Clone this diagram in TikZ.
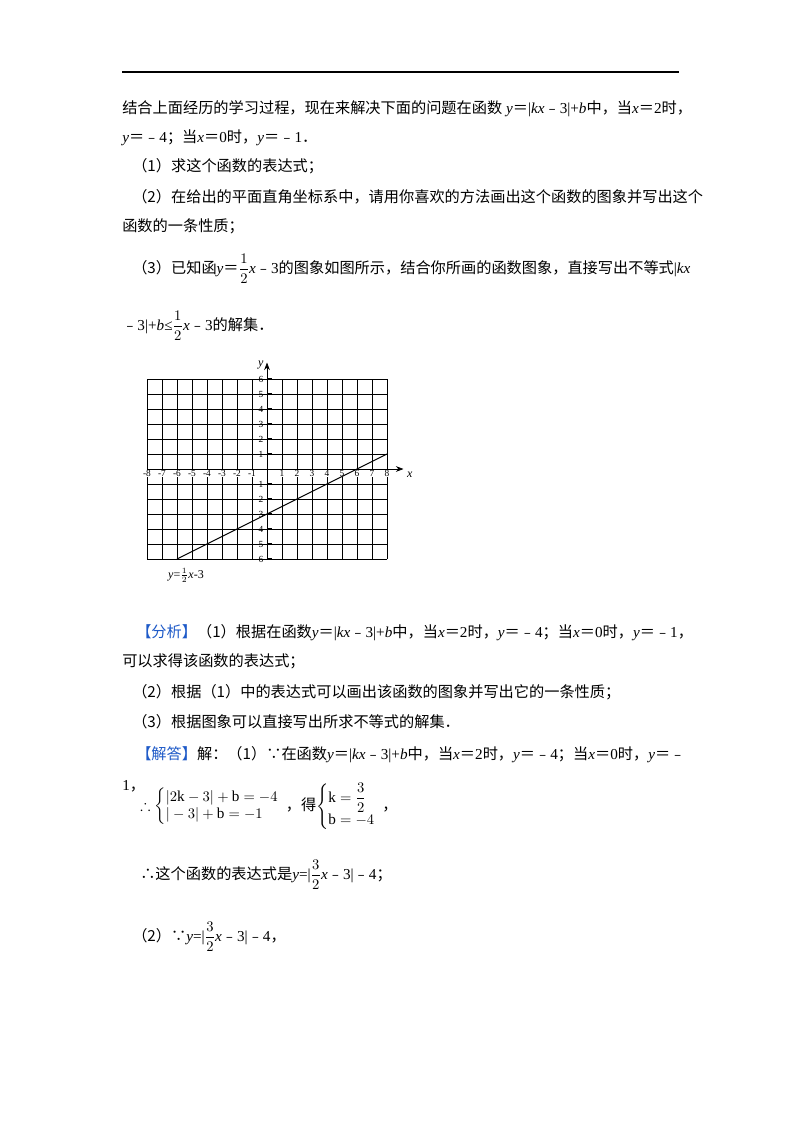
\documentclass[tikz,border=0pt]{standalone}
\usepackage{fontspec}
\usepackage{amsmath, amssymb}
\setmainfont{Liberation Serif}
\newfontfamily\cjk{Noto Sans CJK SC}
\usetikzlibrary{arrows.meta, positioning, calc}
\definecolor{tagblue}{RGB}{30,90,200}
\newcommand{\zh}[1]{{\cjk #1}}
\newcommand{\hfr}[2]{$\dfrac{#1}{#2}$}
\newcommand{\mn}{{\cjk ﹣}}
\tikzset{
  txt/.style={anchor=base west, inner sep=0pt, font=\fontsize{11.4}{13}\selectfont},
  tick/.style={font=\fontsize{7}{8}\selectfont, inner sep=0pt}
}
\begin{document}
\begin{tikzpicture}[x=0.75pt, y=0.75pt]
  \useasboundingbox[fill=white] (0,0) rectangle (800,-1132);
  % Top rule
  \draw[line width=0.8pt] (122,-72) -- (679,-72);

  % Problem text
  \node[txt] (l1) at (122,-113) {\zh{结合上面经历的学习过程，现在来解决下面的问题在函数} \textit{y}\zh{＝}|\textit{kx}\mn3|+\textit{b}\zh{中，当}\textit{x}\zh{＝}2\zh{时，}};
  \node[txt] (l2) at (122,-142) {\textit{y}\zh{＝}\mn4\zh{；当}\textit{x}\zh{＝}0\zh{时，}\textit{y}\zh{＝}\mn1\zh{．}};
  \node[txt] (l3) at (132,-171) {\zh{（1）求这个函数的表达式；}};
  \node[txt] (l4) at (132,-202) {\zh{（2）在给出的平面直角坐标系中，请用你喜欢的方法画出这个函数的图象并写出这个}};
  \node[txt] (l5) at (122,-231) {\zh{函数的一条性质；}};
  \node[txt] (l6) at (132,-273) {\zh{（3）已知函}\textit{y}\zh{＝}\hfr{1}{2}\textit{x}\mn3\zh{的图象如图所示，结合你所画的函数图象，直接写出不等式}|\textit{kx}};
  \node[txt] (l7) at (122,-330) {\mn3|+\textit{b}≤\hfr{1}{2}\textit{x}\mn3\zh{的解集．}};

  % Coordinate grid
  \begin{scope}[shift={(267,-469)}, x=11.25pt, y=11.25pt]
    \foreach \i in {-8,...,8} {
      \draw[line width=0.5pt] (\i,-6) -- (\i,6);
    }
    \foreach \j in {-6,...,6} {
      \draw[line width=0.5pt] (-8,\j) -- (8,\j);
    }
    \draw[-{Stealth[length=2mm]}, line width=0.6pt] (-8,0) -- (9.1,0) node[right=-1pt, yshift=-4pt, font=\fontsize{9}{10}\selectfont\itshape] (xl) {x};
    \draw[-{Stealth[length=2mm]}, line width=0.6pt] (0,-6) -- (0,7.1) node[left=-1pt, yshift=-2pt, font=\fontsize{9}{10}\selectfont\itshape] (yl) {y};
    \foreach \y in {-6,...,6} {
      \ifnum\y=0\else \draw[line width=0.8pt] (0,\y) -- (0.3,\y); \fi
    }
    \foreach \x in {-8,...,-1} {
      \node[tick, fill=white, inner sep=0.3pt] (tx\x) at (\x,-0.3) {\x};
    }
    \foreach \x in {1,...,8} {
      \node[tick, fill=white, inner sep=0.3pt] (tx\x) at (\x,-0.3) {\x};
    }
    \foreach \y in {1,...,6} {
      \node[tick] (ty\y) at (-0.4,\y) {\y};
      \node[tick] (tn\y) at (-0.4,-\y) {\y};
    }
    \coordinate (ls) at (-6,-6);
    \coordinate (le) at (8,1);
    \draw[line width=0.7pt] (ls) -- (le);
    \node[tick, font=\fontsize{9}{10}\selectfont] (fl) at (-5.4,-7.1) {\textit{y}=$\frac{1}{2}$\textit{x}-3};
  \end{scope}

  % Analysis
  \node[txt] (a1) at (136,-637) {\textcolor{tagblue}{\zh{【分析】}}\zh{（1）根据在函数}\textit{y}\zh{＝}|\textit{kx}\mn3|+\textit{b}\zh{中，当}\textit{x}\zh{＝}2\zh{时，}\textit{y}\zh{＝}\mn4\zh{；当}\textit{x}\zh{＝}0\zh{时，}\textit{y}\zh{＝}\mn1\zh{，}};
  \node[txt] (a2) at (122,-666) {\zh{可以求得该函数的表达式；}};
  \node[txt] (a3) at (132,-697) {\zh{（2）根据（1）中的表达式可以画出该函数的图象并写出它的一条性质；}};
  \node[txt] (a4) at (132,-727) {\zh{（3）根据图象可以直接写出所求不等式的解集．}};

  % Solution
  \node[txt] (s1) at (136,-759) {\textcolor{tagblue}{\zh{【解答】}}\zh{解：（1）∵在函数}\textit{y}\zh{＝}|\textit{kx}\mn3|+\textit{b}\zh{中，当}\textit{x}\zh{＝}2\zh{时，}\textit{y}\zh{＝}\mn4\zh{；当}\textit{x}\zh{＝}0\zh{时，}\textit{y}\zh{＝}\mn};
  \node[txt] (s2) at (122,-790) {1\zh{，}};
  \node[txt] (s3) at (140,-810) {$\therefore\left\{\begin{array}{@{}l}|2\mathrm{k}-3|+\mathrm{b}=-4\\|-3|+\mathrm{b}=-1\end{array}\right.$\zh{，得}$\left\{\begin{array}{@{}l}\mathrm{k}=\dfrac{3}{2}\\[4pt]\mathrm{b}=-4\end{array}\right.$\zh{，}};
  \node[txt] (s4) at (140,-879) {\zh{∴这个函数的表达式是}\textit{y}=|\hfr{3}{2}\textit{x}\mn3|\mn4\zh{；}};
  \node[txt] (s5) at (132,-941) {\zh{（2）∵}\textit{y}=|\hfr{3}{2}\textit{x}\mn3|\mn4\zh{，}};
\end{tikzpicture}
\end{document}
